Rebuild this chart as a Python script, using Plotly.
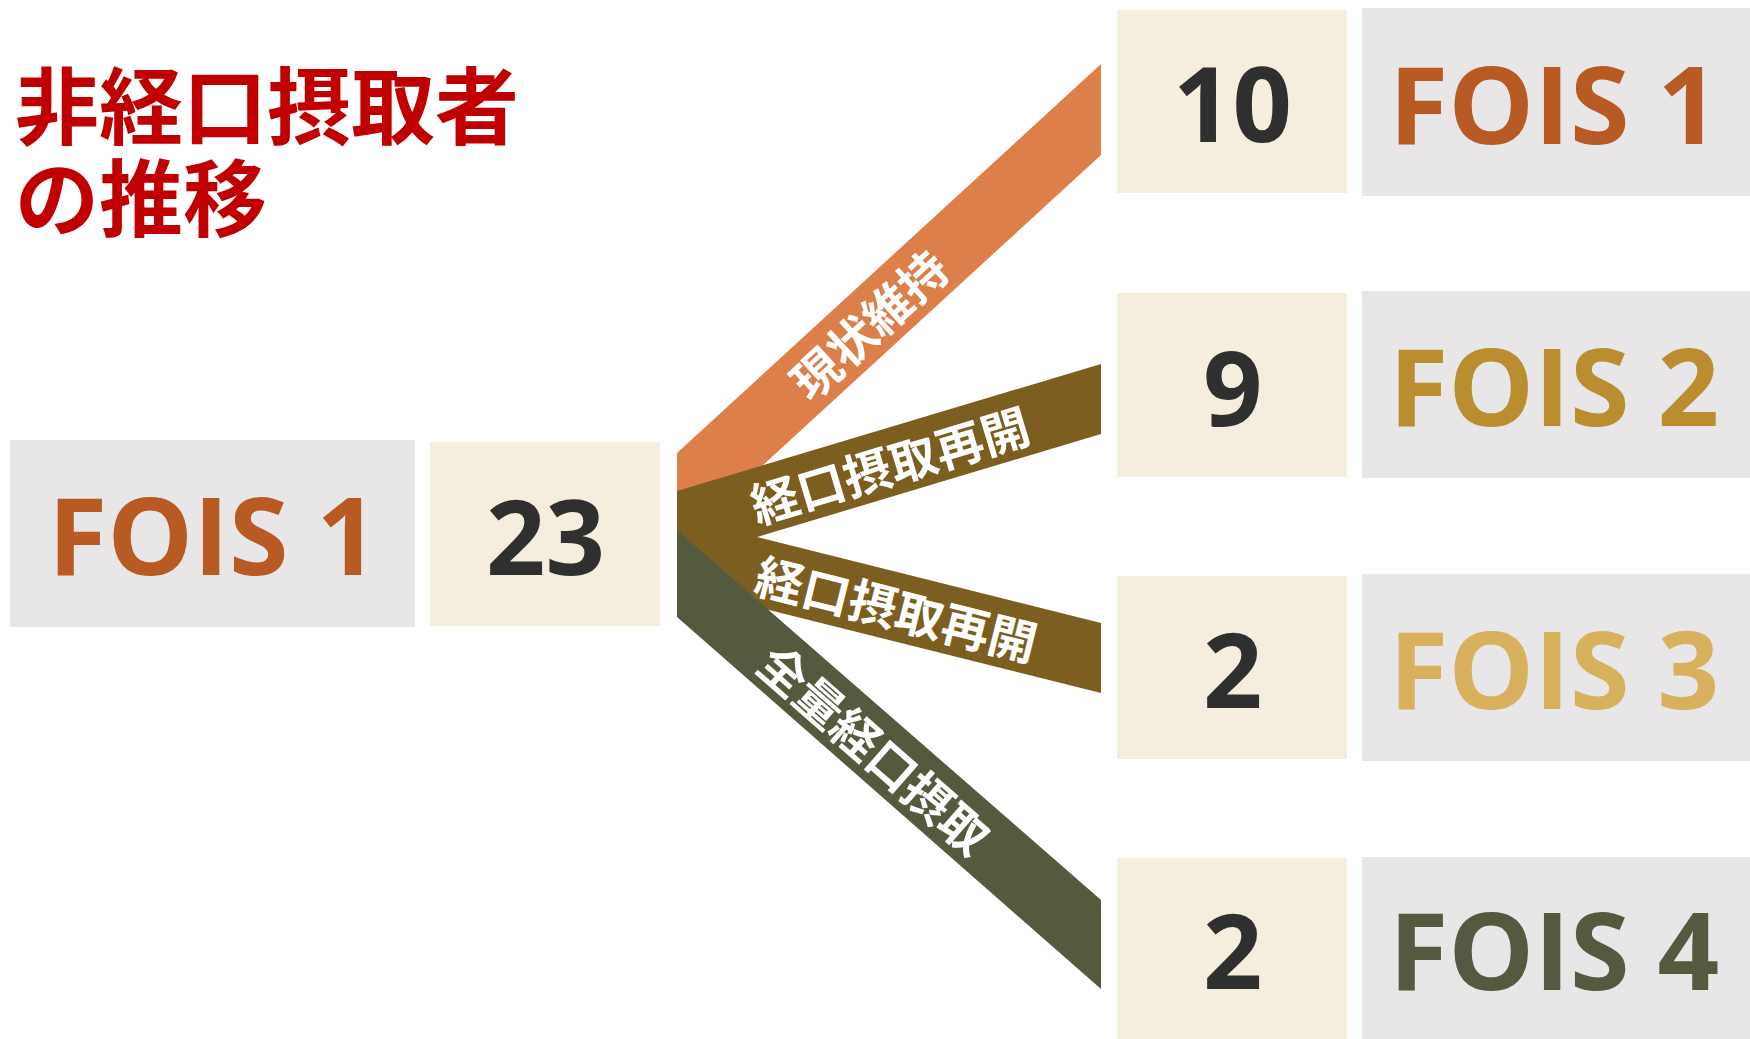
import math
import plotly.graph_objects as go

# ---- data ----
title_lines = ["非経口摂取者", "の推移"]
source_label = "FOIS 1"
source_count = 23
target_labels = ["FOIS 1", "FOIS 2", "FOIS 3", "FOIS 4"]
target_counts = [10, 9, 2, 2]
flow_labels = ["現状維持", "経口摂取再開", "経口摂取再開", "全量経口摂取"]

# ---- styling ----
W, H = 1750, 1039
TITLE_RED = "#C00000"
NUM_COLOR = "#2F2F2F"
BEIGE = "#F5EEDF"
GREY = "#E8E6E7"
source_text_color = "#B85A24"
target_text_colors = ["#B85A24", "#BA8E30", "#D8B15E", "#545A3F"]
flow_colors = ["#DC7F4A", "#7C5E20", "#7C5E20", "#545A3E"]

LATIN = "Open Sans, Noto Sans, sans-serif"
CJK = "Noto Sans CJK JP, sans-serif"

# ---- geometry (pixel space, y grows downwards) ----
src_label_box = (10, 440, 415, 627)
src_count_box = (430, 442, 660, 626)
count_box_x = (1117, 1347)
label_box_x = (1362, 1750)
count_box_y = [(10, 193), (293, 477), (576, 759), (858, 1039)]
label_box_y = [(8, 196), (291, 478), (574, 761), (857, 1039)]
ribbon_x = (677, 1101)
# (left top, left bottom, right top, right bottom)
ribbon_y = [(453, 544, 64, 155), (491, 561, 364, 434),
            (517, 587, 623, 693), (530, 617, 900, 989)]
label_pos = [0.45, 0.50, 0.52, 0.47]   # fraction along each ribbon

fig = go.Figure()
shapes = []
annotations = []


def box(x0, y0, x1, y1, color):
    shapes.append(dict(type="rect", xref="x", yref="y", x0=x0, y0=y0, x1=x1, y1=y1,
                       fillcolor=color, line=dict(width=0), layer="below"))


def text(x, y, s, size, color, family, angle=0, xanchor="center"):
    annotations.append(dict(x=x, y=y, xref="x", yref="y", text=s, showarrow=False,
                            xanchor=xanchor, yanchor="middle", textangle=angle,
                            font=dict(size=size, color=color, family=family, weight="bold")))


# title
text(13, 101, title_lines[0], 84, TITLE_RED, CJK, xanchor="left")
text(13, 193, title_lines[1], 84, TITLE_RED, CJK, xanchor="left")

# source boxes
box(*src_label_box, GREY)
box(*src_count_box, BEIGE)
text((src_label_box[0] + src_label_box[2]) / 2, (src_label_box[1] + src_label_box[3]) / 2,
     source_label, 108, source_text_color, LATIN)
text((src_count_box[0] + src_count_box[2]) / 2, (src_count_box[1] + src_count_box[3]) / 2,
     str(source_count), 104, NUM_COLOR, LATIN)

# flow ribbons
xl, xr = ribbon_x
for (lt, lb, rt, rb), col in zip(ribbon_y, flow_colors):
    fig.add_trace(go.Scatter(x=[xl, xr, xr, xl, xl], y=[lt, rt, rb, lb, lt],
                             mode="lines", fill="toself", fillcolor=col,
                             line=dict(width=0, color=col), hoverinfo="skip",
                             showlegend=False))

for (lt, lb, rt, rb), lab, t in zip(ribbon_y, flow_labels, label_pos):
    cl, cr = (lt + lb) / 2, (rt + rb) / 2
    x = xl + t * (xr - xl)
    y = cl + t * (cr - cl)
    ang = math.degrees(math.atan2(cr - cl, xr - xl))
    text(x, y, lab, 48, "white", CJK, angle=ang)

# target boxes
for (y0, y1), (ly0, ly1), n, lab, col in zip(count_box_y, label_box_y, target_counts,
                                              target_labels, target_text_colors):
    box(count_box_x[0], y0, count_box_x[1], y1, BEIGE)
    box(label_box_x[0], ly0, label_box_x[1], ly1, GREY)
    text((count_box_x[0] + count_box_x[1]) / 2, (y0 + y1) / 2, str(n), 104, NUM_COLOR, LATIN)
    text((label_box_x[0] + label_box_x[1]) / 2 - 2, (ly0 + ly1) / 2, lab, 108, col, LATIN)

fig.update_layout(
    width=W, height=H, autosize=False,
    margin=dict(l=0, r=0, t=0, b=0, pad=0),
    paper_bgcolor="white", plot_bgcolor="white",
    xaxis=dict(range=[0, W], visible=False, fixedrange=True),
    yaxis=dict(range=[H, 0], visible=False, fixedrange=True),
    shapes=shapes, annotations=annotations, showlegend=False,
)

fig.write_html("out.html", config={"displayModeBar": False})
